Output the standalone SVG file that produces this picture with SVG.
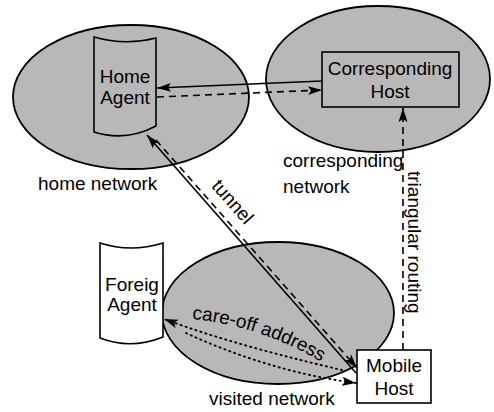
<svg xmlns="http://www.w3.org/2000/svg" width="494" height="412" viewBox="0 0 494 412">
<style>
text{font-family:"Liberation Sans",Arial,sans-serif;font-size:19px;fill:#000}
.net{fill:#b8b8b8;stroke:#000;stroke-width:1.8}
.box{stroke:#000;stroke-width:1.6}
.ln{fill:none;stroke:#000;stroke-width:1.6}
.dash{stroke-dasharray:7 5}
.dot{stroke-dasharray:1.2 4;stroke-linecap:round;stroke-width:1.9}
.c{text-anchor:middle}
</style>
<defs>
<marker id="ah" markerUnits="userSpaceOnUse" markerWidth="16" markerHeight="10" refX="14" refY="5" orient="auto">
<path d="M0,0.5 L14,5 L0,9.5 L3,5 z" fill="#000"/>
</marker>
</defs>
<g id="home-network">
<ellipse class="net" cx="131" cy="97" rx="118" ry="72"/>
<text x="38" y="190">home network</text>
</g>
<g id="corresponding-network">
<ellipse class="net" cx="378" cy="79" rx="112" ry="73"/>
<text x="283" y="167">corresponding</text>
<text x="283" y="193">network</text>
</g>
<g id="visited-network">
<ellipse class="net" cx="278" cy="313" rx="116" ry="71"/>
<text x="209" y="405">visited network</text>
</g>
<g id="home-agent">
<path class="box" fill="#b8b8b8" d="M94,37 Q125,46 156,38 L156,126 Q126,142 94,132 Z"/>
<text class="c" x="125" y="83">Home</text>
<text class="c" x="125" y="104">Agent</text>
</g>
<g id="corresponding-host">
<rect class="box" fill="#b8b8b8" x="322" y="52" width="137" height="55"/>
<text class="c" x="390" y="75">Corresponding</text>
<text class="c" x="390" y="98">Host</text>
</g>
<g id="foreign-agent">
<path class="box" fill="#fff" d="M100,243 Q131,253 163,243 L163,337 Q131,350 100,338 Z"/>
<text class="c" x="132" y="291">Foreig</text>
<text class="c" x="132" y="311">Agent</text>
</g>
<g id="mobile-host">
<rect class="box" fill="#fff" x="357" y="350" width="74" height="53"/>
<text class="c" x="394" y="372">Mobile</text>
<text class="c" x="394" y="395">Host</text>
</g>
<g id="connectors">
<line class="ln" x1="322" y1="81" x2="157" y2="88" marker-end="url(#ah)"/>
<line class="ln dash" x1="157" y1="97" x2="322" y2="90" marker-end="url(#ah)"/>
<line class="ln" x1="356" y1="373" x2="147" y2="135" marker-end="url(#ah)"/>
<line class="ln dash" x1="156" y1="140" x2="357" y2="368" marker-end="url(#ah)"/>
<line class="ln dash" x1="403" y1="350" x2="403" y2="108" marker-end="url(#ah)"/>
<path class="ln dot" d="M342,370 C290,358 220,340 164,319" marker-end="url(#ah)"/>
<path class="ln dot" d="M186,333 C240,358 300,376 356,383" marker-end="url(#ah)"/>
<path id="cap" d="M190,319 Q262,325 328,366" fill="none"/>
<text><textPath href="#cap" startOffset="2">care-off address</textPath></text>
<text class="c" x="228" y="206" transform="rotate(48.5 228 206)">tunnel</text>
<text x="408" y="171" transform="rotate(90 408 171)">triangular routing</text>
</g>
</svg>
